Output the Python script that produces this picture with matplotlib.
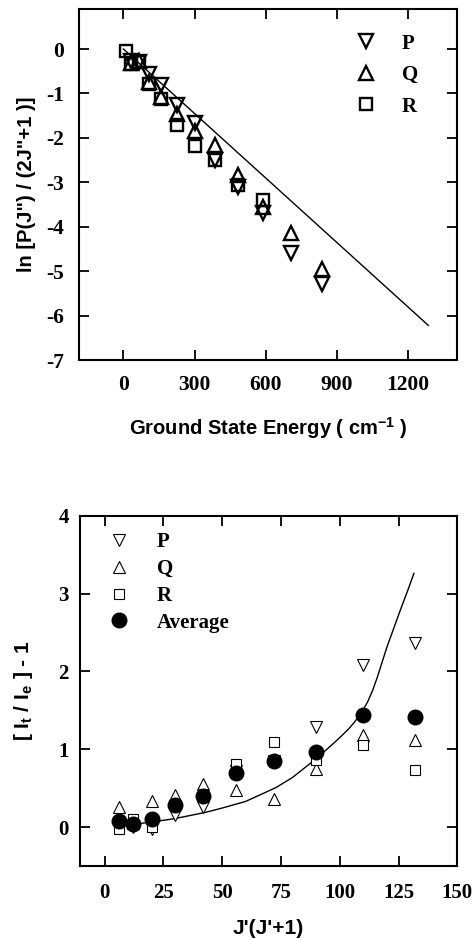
import matplotlib
matplotlib.use('Agg')
import matplotlib.pyplot as plt

plt.rcParams['axes.unicode_minus'] = False
plt.rcParams['mathtext.fontset'] = 'custom'
plt.rcParams['mathtext.rm'] = 'Liberation Sans:bold'
plt.rcParams['mathtext.it'] = 'Liberation Sans:bold'
plt.rcParams['mathtext.bf'] = 'Liberation Sans:bold'

# --- upper panel: Boltzmann plot per branch ---
energy_r = [10, 32, 64, 107, 160, 225, 300, 385, 482, 588]
ln_r = [-0.05, -0.33, -0.30, -0.78, -1.13, -1.70, -2.19, -2.50, -3.05, -3.39]
energy_pq = [32, 64, 107, 160, 225, 300, 385, 482, 588, 706, 835]
ln_p = [-0.28, -0.30, -0.57, -0.81, -1.25, -1.67, -2.49, -3.11, -3.70, -4.59, -5.30]
ln_q = [-0.32, -0.27, -0.75, -1.07, -1.47, -1.85, -2.15, -2.83, -3.55, -4.15, -4.96]
fit_energy = [0, 1285]
fit_ln = [0.0, -6.22]
energy_ticks = [0, 300, 600, 900, 1200]
ln_ticks = [0, -1, -2, -3, -4, -5, -6, -7]

# --- lower panel: intensity ratio vs J'(J'+1) ---
jj = [6, 12, 20, 30, 42, 56, 72, 90, 110, 132]
ratio_p = [0.05, 0.0, -0.03, 0.15, 0.26, 0.72, 0.85, 1.29, 2.08, 2.36]
ratio_q = [0.26, 0.05, 0.34, 0.41, 0.56, 0.48, 0.365, 0.75, 1.18, 1.115]
ratio_r = [-0.02, 0.10, 0.0, 0.30, 0.42, 0.815, 1.09, 0.86, 1.05, 0.73]
ratio_avg = [0.08, 0.04, 0.11, 0.28, 0.40, 0.69, 0.85, 0.965, 1.435, 1.415]
curve_jj = [6, 12, 20, 30, 43, 50, 60, 73, 80, 90, 96, 100, 104, 106, 108, 110,
            112, 114, 116, 118, 120, 123, 126, 129, 131.5]
curve_ratio = [0.02, 0.035, 0.065, 0.11, 0.19, 0.245, 0.33, 0.51, 0.64, 0.88, 1.04,
               1.15, 1.27, 1.34, 1.42, 1.51, 1.62, 1.76, 1.93, 2.12, 2.31, 2.56,
               2.81, 3.05, 3.26]
jj_ticks = [0, 25, 50, 75, 100, 125, 150]
ratio_ticks = [0, 1, 2, 3, 4]

serif = 'Liberation Serif'
sans = 'Liberation Sans'


def style_axes(ax, size):
    for sp in ax.spines.values():
        sp.set_linewidth(1.5)
    ax.tick_params(direction='in', length=7, width=1.3, top=True, right=True)
    for lab in ax.get_xticklabels() + ax.get_yticklabels():
        lab.set_fontfamily(serif)
        lab.set_fontweight('bold')
        lab.set_fontsize(size)


fig = plt.figure(figsize=(4.75, 9.39), dpi=100)

ax1 = fig.add_axes([0.1663, 0.6166, 0.7958, 0.3738])
ax1.plot(fit_energy, fit_ln, color='black', lw=1.0)
ax1.plot(energy_pq, ln_p, linestyle='none', marker='v', ms=10, mfc='none',
         mec='black', mew=1.7, label='P')
ax1.plot(energy_pq, ln_q, linestyle='none', marker='^', ms=10, mfc='none',
         mec='black', mew=1.7, label='Q')
ax1.plot(energy_r, ln_r, linestyle='none', marker='s', ms=8.5, mfc='none',
         mec='black', mew=1.7, label='R')
ax1.set_xlim(-187, 1406)
ax1.set_ylim(-7, 0.9)
ax1.set_xticks(energy_ticks)
ax1.set_yticks(ln_ticks)
style_axes(ax1, 15.5)
ax1.tick_params(axis='x', pad=11)
ax1.tick_params(axis='y', pad=11)
ax1.set_xlabel('Ground State Energy ( cm$^{-1}$ )', fontfamily=sans,
               fontweight='bold', fontsize=14.5, va='center')
ax1.set_ylabel('ln [P(J") / (2J"+1 )]', fontfamily=sans, fontweight='bold',
               fontsize=14.5, va='center')
ax1.xaxis.set_label_coords(0.5, -0.194)
ax1.yaxis.set_label_coords(-0.1376, 0.5)
ax1.legend(loc='upper left', bbox_to_anchor=(0.731, 0.93), frameon=False,
           borderpad=0, borderaxespad=0, handlelength=1.0, handletextpad=1.23,
           labelspacing=0.55, numpoints=1,
           prop={'family': serif, 'weight': 'bold', 'size': 15})

ax2 = fig.add_axes([0.168, 0.0777, 0.795, 0.373])
ax2.plot(curve_jj, curve_ratio, color='black', lw=1.0)
ax2.plot(jj, ratio_p, linestyle='none', marker='v', ms=8, mfc='white',
         mec='black', mew=0.8, label='P')
ax2.plot(jj, ratio_q, linestyle='none', marker='^', ms=8, mfc='white',
         mec='black', mew=0.8, label='Q')
ax2.plot(jj, ratio_r, linestyle='none', marker='s', ms=7.5, mfc='white',
         mec='black', mew=0.8, label='R')
ax2.plot(jj, ratio_avg, linestyle='none', marker='o', ms=10.5, mfc='black',
         mec='black', label='Average')
ax2.set_xlim(-10.5, 150)
ax2.set_ylim(-0.5, 4)
ax2.set_xticks(jj_ticks)
ax2.set_yticks(ratio_ticks)
style_axes(ax2, 15)
ax2.tick_params(axis='x', pad=12)
ax2.tick_params(axis='y', pad=8)
ax2.set_xlabel("J'(J'+1)", fontfamily=sans, fontweight='bold', fontsize=15,
               va='center')
ax2.set_ylabel('[ I$_{t}$ / I$_{e}$ ] - 1', fontfamily=sans, fontweight='bold',
               fontsize=15, va='center')
ax2.xaxis.set_label_coords(0.5, -0.177)
ax2.yaxis.set_label_coords(-0.148, 0.5)
ax2.legend(loc='upper left', bbox_to_anchor=(0.0766, 0.9535), frameon=False,
           borderpad=0, borderaxespad=0, handlelength=1.0, handletextpad=1.3,
           labelspacing=0.33, numpoints=1,
           prop={'family': serif, 'weight': 'bold', 'size': 15})

fig.savefig('out.png', dpi=100)
